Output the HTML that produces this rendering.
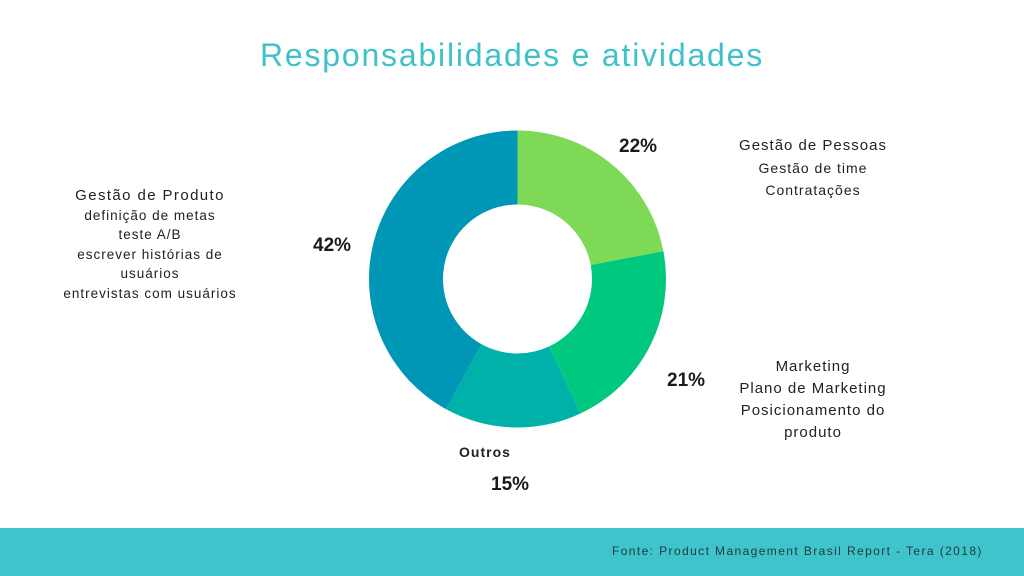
<!DOCTYPE html>
<html><head><meta charset="utf-8"><style>
body{margin:0;width:1024px;height:576px;background:#fff;position:relative;overflow:hidden;font-family:"Liberation Sans",sans-serif}
.t{position:absolute;color:#222;letter-spacing:1px;font-size:14px;line-height:22px;text-align:center}
.p{position:absolute;font-weight:bold;font-size:19px;color:#1a1a1a}
</style></head><body>
<div style="position:absolute;left:0;width:1024px;top:37px;text-align:center;font-size:32px;color:#3ec1c9;letter-spacing:1.8px">Responsabilidades e atividades</div>
<svg id="c" width="1024" height="576" style="position:absolute;left:0;top:0"></svg>
<div class="t" style="left:50px;width:200px;top:186px;font-size:13.5px;line-height:19.5px"><span style="font-size:15px;letter-spacing:1.4px">Gestão de Produto</span><br>definição de metas<br>teste A/B<br>escrever histórias de<br>usuários<br>entrevistas com usuários</div>
<div class="t" style="left:713px;width:200px;top:134px"><span style="font-size:15px">Gestão de Pessoas</span><br>Gestão de time<br>Contratações</div>
<div class="t" style="left:713px;width:200px;top:356px;font-size:15px"><span>Marketing</span><br>Plano de Marketing<br>Posicionamento do<br>produto</div>
<div class="t" style="left:435px;width:100px;top:441px;font-weight:bold;font-size:14px">Outros</div>
<div class="p" style="left:619px;top:136px">22%</div>
<div class="p" style="left:667px;top:370px">21%</div>
<div class="p" style="left:491px;top:474px">15%</div>
<div class="p" style="left:313px;top:235px">42%</div>
<div style="position:absolute;left:0;top:528px;width:1024px;height:48px;background:#40c4cc"></div>
<div style="position:absolute;left:612px;top:544px;font-size:12px;letter-spacing:1.4px;color:#1d3a3c">Fonte: Product Management Brasil Report - Tera (2018)</div>
<script>
const categories=["Gestão de Pessoas","Marketing","Outros","Gestão de Produto"];
const values=[22,21,15,42];
const colors=["#7ed957","#00c97f","#00b1aa","#0097b7"];
const svg=document.getElementById('c');
const cx=517.5,cy=279,R=148.5,r=74.5;
const total=values.reduce((a,b)=>a+b,0);
let a0=0;
function pt(a,rad){return [cx+rad*Math.sin(a),cy-rad*Math.cos(a)];}
values.forEach((v,i)=>{
 const a1=a0+v/total*2*Math.PI;
 const [x1,y1]=pt(a0,R),[x2,y2]=pt(a1,R),[x3,y3]=pt(a1,r),[x4,y4]=pt(a0,r);
 const lg=(a1-a0)>Math.PI?1:0;
 const p=document.createElementNS('http://www.w3.org/2000/svg','path');
 p.setAttribute('d',`M${x1},${y1}A${R},${R} 0 ${lg} 1 ${x2},${y2}L${x3},${y3}A${r},${r} 0 ${lg} 0 ${x4},${y4}Z`);
 p.setAttribute('fill',colors[i]);
 
 
 svg.appendChild(p);
 a0=a1;
});
</script>
</body></html>
